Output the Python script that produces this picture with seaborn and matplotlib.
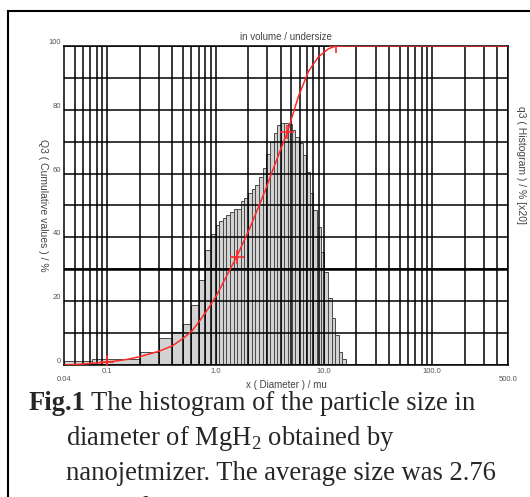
import numpy as np
import pandas as pd
import matplotlib
matplotlib.use("Agg")
import matplotlib.pyplot as plt
import matplotlib.patches as patches
from matplotlib.ticker import FixedLocator, NullFormatter
import seaborn as sns

# histogram bins (um) and q3 heights (scaled x20)
bin_edges = [0.04, 0.072, 0.2, 0.3, 0.4, 0.5, 0.6, 0.7, 0.8, 0.9,
             1.0, 1.08, 1.17, 1.26, 1.36, 1.47, 1.59, 1.71, 1.85, 2.0,
             2.16, 2.33, 2.52, 2.72, 2.94, 3.17, 3.43, 3.70, 4.0, 4.32,
             4.66, 5.04, 5.44, 5.88, 6.35, 6.86, 7.4, 8.0, 8.64, 9.33,
             10.1, 10.9, 11.8, 12.7, 13.7, 14.8, 16.0]
q3_hist = [1.3, 1.9, 4.2, 8.4, 10.3, 12.8, 18.7, 26.5, 36.0, 41.0,
           44.0, 45.0, 46.0, 47.0, 48.0, 48.8, 49.0, 51.5, 52.5, 54.0,
           55.2, 56.4, 59.0, 61.6, 66.3, 70.0, 72.6, 75.2, 76.0, 75.8,
           75.5, 73.7, 71.6, 69.5, 65.8, 60.6, 53.8, 48.6, 43.4, 35.5,
           29.2, 20.9, 14.6, 9.4, 4.2, 2.0]

# cumulative undersize curve
cum_x = [0.04, 0.06, 0.1, 0.15, 0.2, 0.3, 0.4, 0.5, 0.6, 0.72, 0.85,
         1.03, 1.27, 1.57, 2.08, 2.86, 3.5, 4.6, 5.8, 7.2, 8.9, 11.0,
         12.9, 500.0]
cum_y = [0.0, 0.3, 0.9, 1.7, 2.6, 4.3, 6.0, 8.3, 10.5, 14.0, 17.5,
         22.0, 28.0, 34.0, 43.0, 54.5, 62.5, 73.0, 84.0, 92.0, 96.6, 99.1,
         100.0, 100.0]
mark_x = [0.1, 1.57, 4.6, 12.9]
mark_y = [0.9, 34.0, 73.0, 100.0]

x_major = [0.1, 1.0, 10.0, 100.0]
x_major_labels = ["0.1", "1.0", "10.0", "100.0"]
y_ticks = [0, 20, 40, 60, 80, 100]

caption = ["The histogram of the particle size in",
           "diameter of MgH$_2$ obtained by",
           "nanojetmizer. The average size was 2.76",
           "\u00b5m in diameter."]

sns.set_style("white")
plt.rcParams["font.family"] = ["Liberation Sans", "DejaVu Sans"]
plt.rcParams["mathtext.fontset"] = "custom"
plt.rcParams["mathtext.rm"] = "Liberation Serif"

fig = plt.figure(figsize=(5.3, 4.97), dpi=100)
ax = fig.add_axes([64 / 530, (497 - 365) / 497, 444 / 530, 319 / 497])

edges = np.array(bin_edges)
hist_df = pd.DataFrame({"size": (edges[:-1] + edges[1:]) / 2, "q3": q3_hist})
sns.histplot(data=hist_df, x="size", weights="q3", bins=bin_edges, ax=ax,
             color="#d2d2d2", edgecolor="#4a4a4a", linewidth=0.7,
             alpha=1, zorder=1)

ax.set_xscale("log")
ax.set_xlim(0.04, 500)
ax.set_ylim(0, 100)

# grid
ax.xaxis.set_major_locator(FixedLocator(x_major))
ax.set_xticklabels(x_major_labels)
minor = [m * 10.0 ** e for e in range(-2, 3) for m in range(2, 10)]
ax.xaxis.set_minor_locator(FixedLocator([v for v in minor if 0.04 < v <= 500]))
ax.xaxis.set_minor_formatter(NullFormatter())
ax.set_yticks(y_ticks)
ax.yaxis.set_minor_locator(FixedLocator([10, 30, 50, 70, 90]))
ax.grid(which="both", color="black", linewidth=1.1, zorder=2)
ax.axhline(30, color="black", linewidth=1.8, zorder=2)
ax.set_axisbelow(False)
ax.tick_params(which="both", length=0, labelsize=5.5, labelcolor="#555555")
ax.tick_params(axis="x", pad=2)
ax.tick_params(axis="y", pad=2)
for lab in ax.get_yticklabels():
    lab.set_va("bottom")
for s in ax.spines.values():
    s.set_color("black")
    s.set_linewidth(1.1)

ax.text(0.04, -0.047, "0.04", transform=ax.get_xaxis_transform(),
        ha="center", va="center", fontsize=5.5, color="#555555")
ax.text(500, -0.047, "500.0", transform=ax.get_xaxis_transform(),
        ha="center", va="center", fontsize=5.5, color="#555555")

# cumulative curve
sns.lineplot(x=cum_x, y=cum_y, ax=ax, color="#ff2a2a", linewidth=1.1,
             sort=False, zorder=4)
sns.scatterplot(x=mark_x, y=mark_y, ax=ax, marker="+", s=110,
                color="#ff2a2a", linewidth=1.2, zorder=5)

ax.set_xlabel("x ( Diameter ) / mu", fontsize=7, color="#444444")
ax.xaxis.set_label_coords(0.5, -0.048)
ax.set_ylabel("Q3 ( Cumulative values ) / %", fontsize=7.5, color="#444444",
              rotation=270, va="center")
ax.yaxis.set_label_coords(-0.047, 0.5)
ax.text(1.03, 0.627, "q3 ( Histogram ) / % [x20]", transform=ax.transAxes,
        rotation=270, ha="center", va="center", fontsize=7.5, color="#444444")
ax.text(0.5, 1.028, "in volume / undersize", transform=ax.transAxes,
        ha="center", va="center", fontsize=7, color="#444444")

# figure frame
fig.patches.append(patches.Rectangle((8 / 530, -0.1), 1.2, 1 - 11 / 497 + 0.1,
                                     transform=fig.transFigure, fill=False,
                                     edgecolor="black", linewidth=1.5))

# caption
fig.text(29 / 530, 1 - 410 / 497, "Fig.1", fontsize=19.2, fontweight="bold",
         family="Liberation Serif", va="baseline")
fig.text(91 / 530, 1 - 410 / 497, caption[0], fontsize=19.2,
         family="Liberation Serif", va="baseline")
for i, line in enumerate(caption[1:]):
    fig.text(66 / 530, 1 - (445 + 35 * i) / 497, line, fontsize=19.2,
             family="Liberation Serif", va="baseline")

fig.savefig("out.png", dpi=100)
